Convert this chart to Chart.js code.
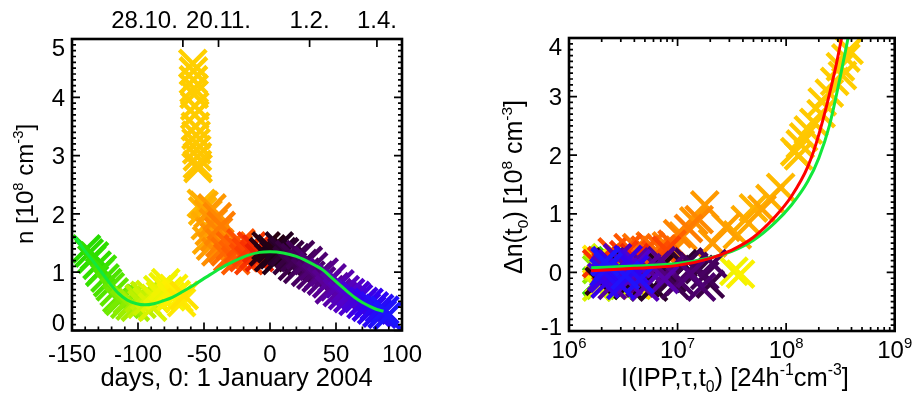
<!DOCTYPE html>
<html><head><meta charset="utf-8">
<script src="https://cdn.jsdelivr.net/npm/chart.js@4.4.1/dist/chart.umd.min.js"></script>
<style>
html,body{margin:0;padding:0;background:#fff;}
body{width:918px;height:393px;overflow:hidden;position:relative;}
canvas{position:absolute;top:0;}
#c1{left:0;} #c2{left:459px;}
</style></head><body>
<canvas id="c1" width="459" height="393"></canvas>
<canvas id="c2" width="459" height="393"></canvas>
<script>
// ---------------- DATA ----------------
const days = [
-139,-137,-135,-133,-131,-129,-127,-125,-123,-121,
-118,-116,-114,-112,-110,-108,-106,-104,-102,
-99,-97,-95,-93,-91,-89,-87,-85,-83,-81,-79,-77,-75,-73,-71,-69,-67,-65,
-58.5,-58,-58,-57.5,-57.5,-57,-57,-56.5,-56,-56,-55.5,-55,-55,-54.5,
-52,-51,-50,-49,-48,-47,-46,-45,-44,-43,-42,-41,-40,-39,-38,-37,-36,
-34,-32,-30,-28,-26,-24,-22,-20,-18,-16,-14,-12,-10,-8,
-5,-3,-1,1,3,5,7,9,
11,13,15,17,19,21,23,25,27,29,31,33,35,
37,39,41,43,45,47,49,51,53,55,57,59,61,63,65,
67,69,71,73,75,77,79,81,83,85,87,89];

const density = [
1.40,1.33,1.22,1.28,1.12,1.00,1.05,0.90,0.82,0.75,
0.66,0.55,0.50,0.58,0.45,0.52,0.42,0.48,0.40,
0.55,0.45,0.60,0.50,0.62,0.40,0.55,0.70,0.60,0.75,0.82,0.68,0.58,0.72,0.62,0.55,0.48,0.60,
4.58,4.45,4.30,4.15,4.05,3.85,3.70,3.50,3.35,3.22,3.10,2.98,2.85,2.78,
2.18,2.05,2.15,1.80,1.55,2.00,1.70,1.45,2.10,1.85,1.60,1.35,1.95,1.70,1.50,1.80,1.40,
1.35,1.25,1.45,1.30,1.20,1.40,1.50,1.25,1.35,1.20,1.45,1.30,1.40,1.25,
1.35,1.45,1.25,1.40,1.30,1.20,1.45,1.35,
1.35,1.20,1.30,1.10,1.25,1.05,1.30,1.15,1.00,1.20,0.95,1.10,0.90,
0.95,0.85,1.00,0.80,0.70,0.90,0.75,0.65,0.80,0.60,0.70,0.55,0.65,0.50,0.60,
0.55,0.45,0.50,0.40,0.48,0.35,0.42,0.30,0.38,0.28,0.35,0.25];

const ippFlux = [
2.0e6,1.8e6,2.5e6,2.2e6,2.8e6,1.9e6,3.2e6,1.85e6,3.5e6,2.4e6,
1.85e6,2.15e6,2.6e6,1.9e6,3.0e6,1.8e6,2.3e6,3.3e6,1.95e6,
2.0e6,2.8e6,1.85e6,4.0e6,2.2e6,1.8e6,3.2e6,2.5e6,1.9e6,4.5e6,3.3e7,2.1e6,3.5e6,3.8e7,1.95e6,2.75e6,1.8e6,4.2e6,
3.8e8,3.55e8,3.16e8,3.3e8,2.8e8,2.5e8,2.15e8,2.1e8,1.8e8,1.6e8,1.45e8,1.35e8,1.2e8,1.3e8,
8.9e7,5.0e7,7.1e7,4.2e7,3.55e7,6.0e7,2.8e7,2.1e7,1.78e7,1.41e7,1.12e7,8.9e6,1.58e7,1.0e7,7.9e6,1.26e7,6.3e6,
4.2e6,5.6e6,7.1e6,8.9e6,5.0e6,3.5e6,2.5e6,6.3e6,7.9e6,2.0e6,3.2e6,1.8e6,4.0e6,2.2e6,
2.8e6,5.0e6,1.9e6,7.1e6,3.5e6,7.9e6,2.4e6,6.0e6,
1.12e7,8.9e6,1.58e7,2.0e7,1.26e7,9.5e6,1.78e7,1.41e7,2.1e7,1.05e7,1.66e7,8.5e6,1.32e7,
6.3e6,4.5e6,7.1e6,3.2e6,5.2e6,2.5e6,4.0e6,7.6e6,2.8e6,5.0e6,2.2e6,3.5e6,4.2e6,2.0e6,3.2e6,
2.5e6,2.1e6,3.5e6,2.15e6,4.0e6,2.2e6,3.0e6,2.1e6,4.5e6,2.3e6,3.3e6,2.15e6];

const deltaN = [
0.10,-0.15,0.20,-0.05,0.15,-0.20,0.05,0.18,-0.22,0.00,
-0.18,0.22,-0.10,0.12,-0.25,0.05,0.18,-0.05,-0.22,
0.20,-0.15,0.10,-0.20,0.25,-0.25,0.00,0.15,-0.12,0.08,0.02,-0.18,0.20,-0.03,0.12,-0.08,0.22,-0.22,
3.79,3.66,3.51,3.36,3.26,3.06,2.91,2.71,2.56,2.43,2.31,2.19,2.06,1.99,
1.45,1.10,1.26,0.90,0.64,1.08,0.77,0.50,1.15,0.88,0.62,0.35,0.90,0.66,0.45,0.75,0.38,
0.42,0.45,0.40,0.48,0.38,0.42,0.35,0.30,0.38,0.20,0.30,0.15,0.25,0.10,
0.05,-0.20,-0.15,0.10,-0.22,-0.10,0.18,-0.25,
0.15,-0.10,0.05,-0.20,0.18,-0.22,-0.05,0.10,0.15,-0.15,-0.25,0.05,-0.02,
0.12,-0.18,0.20,-0.05,0.08,-0.22,0.18,-0.12,0.25,-0.25,0.05,-0.15,0.15,-0.08,0.00,
0.15,-0.10,0.22,-0.20,0.05,0.20,-0.22,0.00,-0.12,0.10,-0.05,0.18];

// smooth fit curve, left panel
const fitDays = [-147.7,-140,-133,-127,-121,-115,-108,-101,-95,-88,-81,-74,-66,-57,-48,-38,-28,-18,-8,0,10,20,28,34,40,46,52,58,64,70,76,81,86];
const fitN    = [1.60,1.36,1.16,0.98,0.80,0.64,0.52,0.46,0.44,0.46,0.51,0.57,0.67,0.79,0.92,1.06,1.18,1.28,1.34,1.35,1.33,1.27,1.19,1.12,1.04,0.92,0.80,0.68,0.57,0.48,0.41,0.36,0.33];

// fit curves, right panel
const fitIppRed   = [1.6e6,4e6,1e7,2e7,3.16e7,5e7,7.9e7,1.12e8,1.58e8,2e8,2.82e8,3.24e8,3.47e8];
const fitDnRed    = [0.03,0.07,0.12,0.24,0.38,0.60,0.95,1.30,1.80,2.35,3.45,4.00,4.30];
const fitIppGreen = [1.6e6,4e6,1e7,2e7,3.16e7,5e7,7.9e7,1.12e8,1.58e8,2e8,2.5e8,3.16e8,3.72e8,4e8];
const fitDnGreen  = [0.08,0.11,0.15,0.25,0.36,0.55,0.85,1.15,1.55,1.95,2.50,3.35,4.00,4.30];

// ticks / labels
const xTicksLeft  = [-150,-100,-50,0,50,100];
const yTicksLeft  = [0,1,2,3,4,5];
const topDateDays   = [-66,-39,30,81];
const topDateLabels = ['28.10.','20.11.','1.2.','1.4.'];
const xTicksRight = [1e6,1e7,1e8,1e9];
const yTicksRight = [-1,0,1,2,3,4];

// ---------------- STYLE ----------------
const FONT = "'Liberation Sans', Arial, Helvetica, sans-serif";
const FS = 24;      // tick labels
const FT = 25.5;    // axis titles
const colorStops = [
 [-147,[25,215,0]],[-128,[55,225,0]],[-112,[120,235,0]],[-98,[185,240,0]],
 [-84,[235,245,0]],[-70,[255,240,0]],[-60,[255,212,0]],[-54,[255,195,0]],
 [-50,[255,175,0]],[-42,[255,145,0]],[-34,[255,112,0]],[-22,[255,82,0]],
 [-12,[250,50,0]],[-7,[230,25,0]],[-5,[45,0,15]],[5,[30,0,25]],
 [15,[55,0,65]],[30,[75,0,105]],[45,[90,0,150]],[60,[85,0,200]],
 [75,[50,0,240]],[92,[25,25,255]]];
function dayColor(d){
  if(d<=colorStops[0][0]) return 'rgb('+colorStops[0][1].join(',')+')';
  for(let i=1;i<colorStops.length;i++){
    const [d1,c1]=colorStops[i];
    if(d<=d1){
      const [d0,c0]=colorStops[i-1]; const f=(d-d0)/(d1-d0);
      return 'rgb('+c0.map((v,k)=>Math.round(v+(c1[k]-v)*f)).join(',')+')';
    }
  }
  return 'rgb('+colorStops[colorStops.length-1][1].join(',')+')';
}
const pointColors = days.map(dayColor);

function fontStr(s){return s+'px '+FONT;}
function richWidth(ctx,parts,size){
  let w=0; for(const p of parts){ctx.font=fontStr(p.s?size*0.62:size); w+=ctx.measureText(p.t).width;} return w;
}
function drawRich(ctx,parts,x,y,size,align){
  const w=richWidth(ctx,parts,size);
  let cx = align==='center'? x-w/2 : align==='right'? x-w : x;
  ctx.textAlign='left'; ctx.textBaseline='alphabetic';
  for(const p of parts){
    const fs=p.s?size*0.62:size; ctx.font=fontStr(fs);
    const dy=p.s==='sup'?-size*0.42:(p.s==='sub'?size*0.25:0);
    ctx.fillText(p.t,cx,y+dy); cx+=ctx.measureText(p.t).width;
  }
}

const idlFrame = {
  id:'idlFrame',
  afterDatasetsDraw(chart,args,o){
    const ctx=chart.ctx,a=chart.chartArea,xs=chart.scales.x,ys=chart.scales.y;
    ctx.save();
    ctx.strokeStyle='#000'; ctx.fillStyle='#000'; ctx.lineWidth=1.7; ctx.lineCap='butt';
    ctx.beginPath();
    const vt=(v,len,top)=>{const p=xs.getPixelForValue(v); if(top){ctx.moveTo(p,a.top);ctx.lineTo(p,a.top+len);}else{ctx.moveTo(p,a.bottom);ctx.lineTo(p,a.bottom-len);}};
    const ht=(v,len,right)=>{const p=ys.getPixelForValue(v); if(right){ctx.moveTo(a.right,p);ctx.lineTo(a.right-len,p);}else{ctx.moveTo(a.left,p);ctx.lineTo(a.left+len,p);}};
    xs.ticks.forEach(t=>{vt(t.value,8,false); if(o.topMirror) vt(t.value,8,true);});
    o.xMinor.forEach(v=>{vt(v,4,false); if(o.topMirror) vt(v,4,true);});
    (o.topTicks||[]).forEach(v=>vt(v,8,true));
    ys.ticks.forEach(t=>{ht(t.value,8,false);ht(t.value,8,true);});
    o.yMinor.forEach(v=>{ht(v,4,false);ht(v,4,true);});
    ctx.stroke();
    ctx.lineWidth=2.6; ctx.strokeRect(a.left,a.top,a.right-a.left,a.bottom-a.top);
    // tick labels
    xs.ticks.forEach(t=>{drawRich(ctx,o.xLabel(t.value),xs.getPixelForValue(t.value),o.xLabelBase,FS,'center');});
    const n=ys.ticks.length;
    ys.ticks.forEach((t,i)=>{
      let py=ys.getPixelForValue(t.value);
      if(i===0) py+=o.yEnd[0]; if(i===n-1) py+=o.yEnd[1];
      drawRich(ctx,[{t:String(t.value)}],a.left-7,py+8.6,FS,'right');
    });
    // top date labels
    if(o.topLabels){
      o.topTicks.forEach((v,i)=>{
        const p=xs.getPixelForValue(v);
        if(o.topAlign[i]==='right') drawRich(ctx,[{t:o.topLabels[i]}],p-5,27.5,FS,'right');
        else drawRich(ctx,[{t:o.topLabels[i]}],p,27.5,FS,'center');
      });
    }
    // axis titles
    drawRich(ctx,o.xTitle,o.xTitlePos[0],o.xTitlePos[1],FT,'center');
    ctx.save(); ctx.translate(o.yTitlePos[0],o.yTitlePos[1]); ctx.rotate(-Math.PI/2);
    drawRich(ctx,o.yTitle,0,0,o.yTitleSize,'center'); ctx.restore();
    ctx.restore();
  }
};

function range(a,b,step,skipEvery){const r=[];for(let v=a;v<=b+1e-9;v+=step){const vv=Math.round(v*1000)/1000; if(skipEvery && Math.abs(vv/skipEvery-Math.round(vv/skipEvery))<1e-6) continue; r.push(vv);} return r;}
const logMinor=[];for(let e=6;e<=8;e++)for(let k=2;k<=9;k++)logMinor.push(k*Math.pow(10,e));

const baseOpts = {responsive:false,animation:false,devicePixelRatio:1,events:[]};
const MARK = {pointStyle:'crossRot',pointRadius:19,pointBorderWidth:4.3};

// ---------------- LEFT CHART ----------------
new Chart(document.getElementById('c1'),{
  type:'scatter',
  data:{datasets:[
    {data:fitDays.map((d,i)=>({x:d,y:fitN[i]})),showLine:true,borderColor:'#12e83c',borderWidth:3,pointRadius:0,cubicInterpolationMode:'monotone',order:0,clip:0},
    Object.assign({data:days.map((d,i)=>({x:d,y:density[i]})),showLine:false,pointBorderColor:pointColors,pointBackgroundColor:pointColors,order:1,clip:0},MARK)
  ]},
  options:Object.assign({},baseOpts,{
    layout:{padding:{left:0,right:57,top:39,bottom:0}},
    plugins:{legend:{display:false},tooltip:{enabled:false},
      idlFrame:{topMirror:false,topTicks:topDateDays,topLabels:topDateLabels,topAlign:['right','center','center','center'],
        xMinor:range(-150,100,10,50),yMinor:range(0,5,0.1,1),
        xLabel:v=>[{t:String(v)}],xLabelBase:361.5,yEnd:[-8,8],
        xTitle:[{t:'days, 0: 1 January 2004'}],xTitlePos:[236.5,386],
        yTitle:[{t:'n [10'},{t:'8',s:'sup'},{t:' cm'},{t:'-3',s:'sup'},{t:']'}],yTitlePos:[33,184],yTitleSize:24}},
    scales:{
      x:{type:'linear',min:-150,max:100,afterBuildTicks:s=>{s.ticks=xTicksLeft.map(v=>({value:v}));},afterFit:s=>{s.height=62.5;},ticks:{display:false},grid:{display:false},border:{display:false}},
      y:{type:'linear',min:0,max:5,afterBuildTicks:s=>{s.ticks=yTicksLeft.map(v=>({value:v}));},afterFit:s=>{s.width=72;},ticks:{display:false},grid:{display:false},border:{display:false}}
    }
  }),
  plugins:[idlFrame]
});

// ---------------- RIGHT CHART ----------------
new Chart(document.getElementById('c2'),{
  type:'scatter',
  data:{datasets:[
    {data:fitIppRed.map((v,i)=>({x:v,y:fitDnRed[i]})),showLine:true,borderColor:'#ff0000',borderWidth:3,pointRadius:0,cubicInterpolationMode:'monotone',order:0,clip:0},
    {data:fitIppGreen.map((v,i)=>({x:v,y:fitDnGreen[i]})),showLine:true,borderColor:'#12e83c',borderWidth:3,pointRadius:0,cubicInterpolationMode:'monotone',order:1,clip:0},
    Object.assign({data:ippFlux.map((v,i)=>({x:v,y:deltaN[i]})),showLine:false,pointBorderColor:pointColors,pointBackgroundColor:pointColors,order:2,clip:0},MARK)
  ]},
  options:Object.assign({},baseOpts,{
    layout:{padding:{left:0,right:19,top:38,bottom:0}},
    plugins:{legend:{display:false},tooltip:{enabled:false},
      idlFrame:{topMirror:true,xMinor:logMinor,yMinor:range(-1,4,0.1,1),
        xLabel:v=>[{t:'10'},{t:String(Math.round(Math.log10(v))),s:'sup'}],xLabelBase:358,yEnd:[-5,8],
        xTitle:[{t:'I(IPP,τ,t'},{t:'0',s:'sub'},{t:') [24h'},{t:'-1',s:'sup'},{t:'cm'},{t:'-3',s:'sup'},{t:']'}],xTitlePos:[276,386],
        yTitle:[{t:'Δn(t'},{t:'0',s:'sub'},{t:') [10'},{t:'8',s:'sup'},{t:' cm'},{t:'-3',s:'sup'},{t:']'}],yTitlePos:[63,187],yTitleSize:25}},
    scales:{
      x:{type:'logarithmic',min:1e6,max:1e9,afterBuildTicks:s=>{s.ticks=xTicksRight.map(v=>({value:v}));},afterFit:s=>{s.height=62;},ticks:{display:false},grid:{display:false},border:{display:false}},
      y:{type:'linear',min:-1,max:4,afterBuildTicks:s=>{s.ticks=yTicksRight.map(v=>({value:v}));},afterFit:s=>{s.width=110;},ticks:{display:false},grid:{display:false},border:{display:false}}
    }
  }),
  plugins:[idlFrame]
});
</script>
</body></html>
